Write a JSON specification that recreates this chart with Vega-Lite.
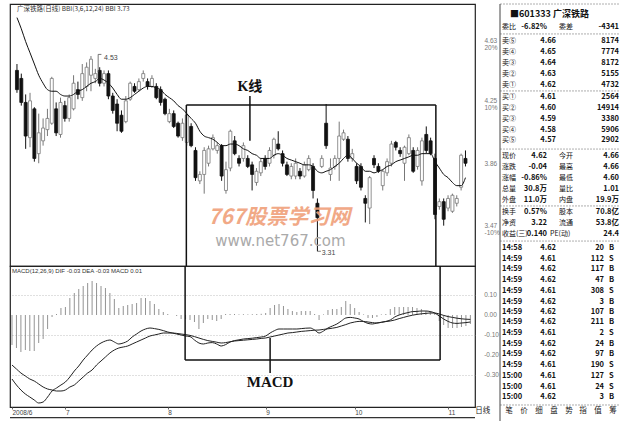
{
"$schema":"https://vega.github.io/schema/vega-lite/v6.json",
"padding":{"left":8,"top":3,"right":0,"bottom":0},
"background":"white",
"spacing":-5,
"config":{"view":{"stroke":"#222","strokeWidth":1.2},"font":"Noto Sans CJK SC","axis":{"labelOverlap":false}},
"datasets":{
"k":[
{"i":0,"o":4.44,"h":4.48,"l":4.30,"c":4.32,"b":4.77,"dif":-0.32,"dea":-0.25,"m":-0.15},
{"i":1,"o":4.39,"h":4.42,"l":4.22,"c":4.24,"b":4.70,"dif":-0.35,"dea":-0.27,"m":-0.165},
{"i":2,"o":4.24,"h":4.29,"l":3.95,"c":4.03,"b":4.62,"dif":-0.375,"dea":-0.29,"m":-0.185},
{"i":3,"o":4.02,"h":4.30,"l":3.96,"c":4.25,"b":4.55,"dif":-0.395,"dea":-0.305,"m":-0.175},
{"i":4,"o":4.20,"h":4.21,"l":3.87,"c":3.89,"b":4.48,"dif":-0.41,"dea":-0.32,"m":-0.18},
{"i":5,"o":3.92,"h":4.17,"l":3.86,"c":4.05,"b":4.41,"dif":-0.425,"dea":-0.33,"m":-0.18},
{"i":6,"o":4.00,"h":4.14,"l":3.97,"c":4.08,"b":4.36,"dif":-0.44,"dea":-0.345,"m":-0.14},
{"i":7,"o":4.07,"h":4.20,"l":4.03,"c":4.14,"b":4.32,"dif":-0.435,"dea":-0.36,"m":-0.12},
{"i":8,"o":4.11,"h":4.40,"l":4.10,"c":4.39,"b":4.31,"dif":-0.41,"dea":-0.37,"m":-0.07},
{"i":9,"o":4.20,"h":4.24,"l":4.03,"c":4.05,"b":4.31,"dif":-0.38,"dea":-0.375,"m":-0.01},
{"i":10,"o":4.04,"h":4.27,"l":4.02,"c":4.24,"b":4.29,"dif":-0.365,"dea":-0.38,"m":0.005},
{"i":11,"o":4.22,"h":4.25,"l":4.12,"c":4.14,"b":4.28,"dif":-0.35,"dea":-0.38,"m":0.035},
{"i":12,"o":4.14,"h":4.29,"l":4.12,"c":4.27,"b":4.28,"dif":-0.335,"dea":-0.375,"m":0.04},
{"i":13,"o":4.20,"h":4.41,"l":4.19,"c":4.36,"b":4.29,"dif":-0.31,"dea":-0.36,"m":0.085},
{"i":14,"o":4.32,"h":4.37,"l":4.26,"c":4.29,"b":4.31,"dif":-0.28,"dea":-0.35,"m":0.11},
{"i":15,"o":4.27,"h":4.48,"l":4.25,"c":4.42,"b":4.32,"dif":-0.255,"dea":-0.33,"m":0.13},
{"i":16,"o":4.34,"h":4.49,"l":4.31,"c":4.46,"b":4.34,"dif":-0.225,"dea":-0.31,"m":0.145},
{"i":17,"o":4.41,"h":4.53,"l":4.31,"c":4.51,"b":4.36,"dif":-0.2,"dea":-0.29,"m":0.16},
{"i":18,"o":4.39,"h":4.45,"l":4.36,"c":4.42,"b":4.37,"dif":-0.175,"dea":-0.275,"m":0.17},
{"i":19,"o":4.44,"h":4.46,"l":4.34,"c":4.36,"b":4.39,"dif":-0.155,"dea":-0.25,"m":0.16},
{"i":20,"o":4.36,"h":4.44,"l":4.34,"c":4.42,"b":4.38,"dif":-0.14,"dea":-0.23,"m":0.145},
{"i":21,"o":4.42,"h":4.44,"l":4.26,"c":4.28,"b":4.36,"dif":-0.13,"dea":-0.21,"m":0.135},
{"i":22,"o":4.28,"h":4.30,"l":4.17,"c":4.19,"b":4.33,"dif":-0.125,"dea":-0.19,"m":0.11},
{"i":23,"o":4.23,"h":4.26,"l":4.06,"c":4.11,"b":4.29,"dif":-0.135,"dea":-0.175,"m":0.08},
{"i":24,"o":4.16,"h":4.19,"l":4.05,"c":4.06,"b":4.26,"dif":-0.145,"dea":-0.165,"m":0.035},
{"i":25,"o":4.12,"h":4.28,"l":4.11,"c":4.25,"b":4.26,"dif":-0.14,"dea":-0.16,"m":0.045},
{"i":26,"o":4.26,"h":4.37,"l":4.25,"c":4.36,"b":4.27,"dif":-0.13,"dea":-0.155,"m":0.05},
{"i":27,"o":4.34,"h":4.36,"l":4.30,"c":4.31,"b":4.29,"dif":-0.11,"dea":-0.145,"m":0.055},
{"i":28,"o":4.32,"h":4.39,"l":4.31,"c":4.37,"b":4.31,"dif":-0.095,"dea":-0.135,"m":0.06},
{"i":29,"o":4.39,"h":4.44,"l":4.37,"c":4.42,"b":4.33,"dif":-0.08,"dea":-0.125,"m":0.085},
{"i":30,"o":4.37,"h":4.39,"l":4.32,"c":4.34,"b":4.34,"dif":-0.07,"dea":-0.115,"m":0.085},
{"i":31,"o":4.34,"h":4.41,"l":4.33,"c":4.39,"b":4.34,"dif":-0.065,"dea":-0.105,"m":0.07},
{"i":32,"o":4.34,"h":4.36,"l":4.26,"c":4.27,"b":4.33,"dif":-0.068,"dea":-0.1,"m":0.055},
{"i":33,"o":4.32,"h":4.34,"l":4.22,"c":4.24,"b":4.32,"dif":-0.072,"dea":-0.095,"m":0.03},
{"i":34,"o":4.26,"h":4.27,"l":4.16,"c":4.17,"b":4.29,"dif":-0.078,"dea":-0.09,"m":0.015},
{"i":35,"o":4.12,"h":4.20,"l":4.11,"c":4.17,"b":4.27,"dif":-0.085,"dea":-0.09,"m":0.005},
{"i":36,"o":4.17,"h":4.19,"l":4.08,"c":4.09,"b":4.25,"dif":-0.09,"dea":-0.09,"m":0.0},
{"i":37,"o":4.11,"h":4.12,"l":4.02,"c":4.03,"b":4.22,"dif":-0.095,"dea":-0.092,"m":-0.005},
{"i":38,"o":4.02,"h":4.14,"l":4.00,"c":4.11,"b":4.20,"dif":-0.1,"dea":-0.095,"m":-0.02},
{"i":39,"o":3.99,"h":4.17,"l":3.97,"c":4.16,"b":4.17,"dif":-0.105,"dea":-0.098,"m":-0.02},
{"i":40,"o":4.09,"h":4.11,"l":3.96,"c":3.97,"b":4.14,"dif":-0.108,"dea":-0.102,"m":-0.025},
{"i":41,"o":3.94,"h":3.96,"l":3.75,"c":3.77,"b":4.11,"dif":-0.125,"dea":-0.108,"m":-0.035},
{"i":42,"o":3.75,"h":3.81,"l":3.73,"c":3.79,"b":4.06,"dif":-0.14,"dea":-0.115,"m":-0.07},
{"i":43,"o":3.79,"h":3.96,"l":3.67,"c":3.94,"b":4.03,"dif":-0.145,"dea":-0.122,"m":-0.04},
{"i":44,"o":3.86,"h":3.97,"l":3.84,"c":3.95,"b":4.02,"dif":-0.14,"dea":-0.128,"m":-0.02},
{"i":45,"o":3.95,"h":4.04,"l":3.94,"c":4.02,"b":4.01,"dif":-0.138,"dea":-0.132,"m":-0.025},
{"i":46,"o":3.94,"h":3.99,"l":3.92,"c":3.97,"b":3.99,"dif":-0.145,"dea":-0.136,"m":-0.03},
{"i":47,"o":3.97,"h":3.98,"l":3.75,"c":3.78,"b":3.97,"dif":-0.155,"dea":-0.14,"m":-0.02},
{"i":48,"o":3.69,"h":3.87,"l":3.67,"c":3.82,"b":3.97,"dif":-0.148,"dea":-0.138,"m":0.005},
{"i":49,"o":3.83,"h":4.07,"l":3.81,"c":4.06,"b":3.98,"dif":-0.135,"dea":-0.134,"m":0.005},
{"i":50,"o":4.00,"h":4.03,"l":3.91,"c":3.92,"b":3.98,"dif":-0.128,"dea":-0.13,"m":0.005},
{"i":51,"o":3.89,"h":3.91,"l":3.84,"c":3.86,"b":3.97,"dif":-0.124,"dea":-0.128,"m":0.003},
{"i":52,"o":3.89,"h":3.99,"l":3.87,"c":3.97,"b":3.95,"dif":-0.12,"dea":-0.126,"m":0.004},
{"i":53,"o":3.89,"h":3.91,"l":3.83,"c":3.84,"b":3.94,"dif":-0.118,"dea":-0.124,"m":0.003},
{"i":54,"o":3.85,"h":3.87,"l":3.69,"c":3.79,"b":3.92,"dif":-0.116,"dea":-0.122,"m":0.004},
{"i":55,"o":3.74,"h":3.83,"l":3.72,"c":3.81,"b":3.91,"dif":-0.113,"dea":-0.12,"m":0.005},
{"i":56,"o":3.80,"h":3.89,"l":3.78,"c":3.87,"b":3.89,"dif":-0.11,"dea":-0.117,"m":0.006},
{"i":57,"o":3.89,"h":3.91,"l":3.82,"c":3.84,"b":3.89,"dif":-0.105,"dea":-0.115,"m":0.01},
{"i":58,"o":3.86,"h":3.96,"l":3.84,"c":3.94,"b":3.89,"dif":-0.09,"dea":-0.11,"m":0.035},
{"i":59,"o":3.91,"h":4.02,"l":3.89,"c":4.01,"b":3.91,"dif":-0.078,"dea":-0.105,"m":0.05},
{"i":60,"o":3.98,"h":4.06,"l":3.94,"c":3.95,"b":3.92,"dif":-0.07,"dea":-0.1,"m":0.055},
{"i":61,"o":3.92,"h":3.94,"l":3.84,"c":3.86,"b":3.91,"dif":-0.07,"dea":-0.095,"m":0.045},
{"i":62,"o":3.85,"h":3.87,"l":3.78,"c":3.79,"b":3.89,"dif":-0.07,"dea":-0.09,"m":0.03},
{"i":63,"o":3.78,"h":3.86,"l":3.76,"c":3.84,"b":3.88,"dif":-0.07,"dea":-0.088,"m":0.02},
{"i":64,"o":3.78,"h":3.89,"l":3.76,"c":3.86,"b":3.87,"dif":-0.07,"dea":-0.085,"m":0.015},
{"i":65,"o":3.81,"h":3.83,"l":3.76,"c":3.78,"b":3.86,"dif":-0.068,"dea":-0.082,"m":0.02},
{"i":66,"o":3.78,"h":3.87,"l":3.77,"c":3.85,"b":3.85,"dif":-0.066,"dea":-0.08,"m":0.02},
{"i":67,"o":3.82,"h":3.91,"l":3.81,"c":3.89,"b":3.85,"dif":-0.065,"dea":-0.078,"m":0.02},
{"i":68,"o":3.84,"h":3.86,"l":3.64,"c":3.69,"b":3.84,"dif":-0.075,"dea":-0.076,"m":0.005},
{"i":69,"o":3.61,"h":3.64,"l":3.31,"c":3.52,"b":3.81,"dif":-0.09,"dea":-0.075,"m":-0.025},
{"i":70,"o":3.84,"h":3.91,"l":3.83,"c":3.89,"b":3.80,"dif":-0.08,"dea":-0.072,"m":0.003},
{"i":71,"o":4.11,"h":4.23,"l":3.95,"c":3.97,"b":3.81,"dif":-0.065,"dea":-0.069,"m":0.025},
{"i":72,"o":3.79,"h":3.89,"l":3.75,"c":3.83,"b":3.82,"dif":-0.055,"dea":-0.066,"m":0.03},
{"i":73,"o":3.84,"h":3.91,"l":3.82,"c":3.89,"b":3.84,"dif":-0.045,"dea":-0.062,"m":0.03},
{"i":74,"o":3.89,"h":4.12,"l":3.75,"c":4.03,"b":3.86,"dif":-0.03,"dea":-0.055,"m":0.04},
{"i":75,"o":4.01,"h":4.07,"l":4.00,"c":4.05,"b":3.89,"dif":-0.015,"dea":-0.048,"m":0.07},
{"i":76,"o":4.01,"h":4.03,"l":3.87,"c":3.89,"b":3.91,"dif":-0.012,"dea":-0.04,"m":0.055},
{"i":77,"o":3.89,"h":3.95,"l":3.87,"c":3.92,"b":3.89,"dif":-0.015,"dea":-0.035,"m":0.035},
{"i":78,"o":3.84,"h":3.86,"l":3.73,"c":3.75,"b":3.86,"dif":-0.02,"dea":-0.032,"m":0.015},
{"i":79,"o":3.84,"h":3.86,"l":3.69,"c":3.71,"b":3.84,"dif":-0.033,"dea":-0.032,"m":0.003},
{"i":80,"o":3.64,"h":3.66,"l":3.49,"c":3.61,"b":3.81,"dif":-0.042,"dea":-0.035,"m":-0.015},
{"i":81,"o":3.58,"h":3.78,"l":3.48,"c":3.77,"b":3.81,"dif":-0.045,"dea":-0.038,"m":-0.015},
{"i":82,"o":3.89,"h":3.91,"l":3.83,"c":3.85,"b":3.80,"dif":-0.04,"dea":-0.04,"m":-0.01},
{"i":83,"o":3.84,"h":3.86,"l":3.80,"c":3.81,"b":3.81,"dif":-0.037,"dea":-0.036,"m":0.003},
{"i":84,"o":3.72,"h":3.82,"l":3.69,"c":3.81,"b":3.82,"dif":-0.032,"dea":-0.033,"m":0.005},
{"i":85,"o":3.80,"h":3.89,"l":3.78,"c":3.87,"b":3.84,"dif":-0.025,"dea":-0.03,"m":0.03},
{"i":86,"o":3.86,"h":4.00,"l":3.84,"c":3.98,"b":3.85,"dif":-0.01,"dea":-0.025,"m":0.04},
{"i":87,"o":3.99,"h":4.00,"l":3.94,"c":3.96,"b":3.87,"dif":0.0,"dea":-0.018,"m":0.04},
{"i":88,"o":3.94,"h":3.96,"l":3.90,"c":3.92,"b":3.88,"dif":0.007,"dea":-0.012,"m":0.04},
{"i":89,"o":3.86,"h":3.97,"l":3.75,"c":3.96,"b":3.89,"dif":0.012,"dea":-0.006,"m":0.04},
{"i":90,"o":3.92,"h":4.04,"l":3.91,"c":4.02,"b":3.90,"dif":0.017,"dea":-0.001,"m":0.04},
{"i":91,"o":3.94,"h":3.96,"l":3.80,"c":3.81,"b":3.91,"dif":0.018,"dea":0.003,"m":0.035},
{"i":92,"o":3.84,"h":3.96,"l":3.82,"c":3.94,"b":3.91,"dif":0.02,"dea":0.006,"m":0.03},
{"i":93,"o":3.75,"h":4.02,"l":3.72,"c":4.00,"b":3.92,"dif":0.02,"dea":0.008,"m":0.02},
{"i":94,"o":4.04,"h":4.09,"l":3.92,"c":3.94,"b":3.92,"dif":0.017,"dea":0.01,"m":0.02},
{"i":95,"o":4.00,"h":4.02,"l":3.91,"c":3.92,"b":3.92,"dif":0.01,"dea":0.01,"m":0.01},
{"i":96,"o":3.89,"h":3.92,"l":3.51,"c":3.54,"b":3.87,"dif":-0.005,"dea":0.005,"m":-0.03},
{"i":97,"o":3.59,"h":3.64,"l":3.57,"c":3.62,"b":3.83,"dif":-0.02,"dea":-0.002,"m":-0.05},
{"i":98,"o":3.62,"h":3.64,"l":3.47,"c":3.51,"b":3.79,"dif":-0.032,"dea":-0.008,"m":-0.065},
{"i":99,"o":3.58,"h":3.66,"l":3.56,"c":3.64,"b":3.77,"dif":-0.04,"dea":-0.012,"m":-0.065},
{"i":100,"o":3.56,"h":3.67,"l":3.55,"c":3.66,"b":3.74,"dif":-0.042,"dea":-0.016,"m":-0.065},
{"i":101,"o":3.61,"h":3.66,"l":3.59,"c":3.64,"b":3.72,"dif":-0.04,"dea":-0.019,"m":-0.06},
{"i":102,"o":3.71,"h":3.92,"l":3.69,"c":3.91,"b":3.72,"dif":-0.038,"dea":-0.021,"m":-0.055},
{"i":103,"o":3.89,"h":3.94,"l":3.84,"c":3.86,"b":3.77,"dif":-0.035,"dea":-0.022,"m":-0.045}
],
"t":[
{"ln":0,"c":4,"t":"■601333 广深铁路"},
{"ln":1.2,"c":2,"t":"委比"},{"ln":1.2,"c":7,"t":"-6.82%"},{"ln":1.2,"c":11,"t":"委差"},{"ln":1.2,"c":18,"t":"-4341"},
{"ln":2.5,"c":2,"t":"卖⑤"},{"ln":2.5,"c":10,"t":"4.66"},{"ln":2.5,"c":18,"t":"8174"},
{"ln":3.5,"c":2,"t":"卖④"},{"ln":3.5,"c":10,"t":"4.65"},{"ln":3.5,"c":18,"t":"7774"},
{"ln":4.5,"c":2,"t":"卖③"},{"ln":4.5,"c":10,"t":"4.64"},{"ln":4.5,"c":18,"t":"8172"},
{"ln":5.5,"c":2,"t":"卖②"},{"ln":5.5,"c":10,"t":"4.63"},{"ln":5.5,"c":18,"t":"5155"},
{"ln":6.5,"c":2,"t":"卖①"},{"ln":6.5,"c":10,"t":"4.62"},{"ln":6.5,"c":18,"t":"4732"},
{"ln":7.6,"c":2,"t":"买①"},{"ln":7.6,"c":10,"t":"4.61"},{"ln":7.6,"c":18,"t":"2564"},
{"ln":8.6,"c":2,"t":"买②"},{"ln":8.6,"c":10,"t":"4.60"},{"ln":8.6,"c":18,"t":"14914"},
{"ln":9.6,"c":2,"t":"买③"},{"ln":9.6,"c":10,"t":"4.59"},{"ln":9.6,"c":18,"t":"3380"},
{"ln":10.6,"c":2,"t":"买④"},{"ln":10.6,"c":10,"t":"4.58"},{"ln":10.6,"c":18,"t":"5906"},
{"ln":11.6,"c":2,"t":"买⑤"},{"ln":11.6,"c":10,"t":"4.57"},{"ln":11.6,"c":18,"t":"2902"},
{"ln":13,"c":2,"t":"现价"},{"ln":13,"c":7,"t":"4.62"},{"ln":13,"c":11,"t":"今开"},{"ln":13,"c":18,"t":"4.66"},
{"ln":14,"c":2,"t":"涨跌"},{"ln":14,"c":7,"t":"-0.04"},{"ln":14,"c":11,"t":"最高"},{"ln":14,"c":18,"t":"4.66"},
{"ln":15,"c":2,"t":"涨幅"},{"ln":15,"c":7,"t":"-0.86%"},{"ln":15,"c":11,"t":"最低"},{"ln":15,"c":18,"t":"4.60"},
{"ln":16.1,"c":2,"t":"总量"},{"ln":16.1,"c":7,"t":"30.8万"},{"ln":16.1,"c":11,"t":"量比"},{"ln":16.1,"c":18,"t":"1.01"},
{"ln":17.1,"c":2,"t":"外盘"},{"ln":17.1,"c":7,"t":"11.0万"},{"ln":17.1,"c":11,"t":"内盘"},{"ln":17.1,"c":18,"t":"19.9万"},
{"ln":18.2,"c":2,"t":"换手"},{"ln":18.2,"c":7,"t":"0.57%"},{"ln":18.2,"c":11,"t":"股本"},{"ln":18.2,"c":18,"t":"70.8亿"},
{"ln":19.2,"c":2,"t":"净资"},{"ln":19.2,"c":7,"t":"3.22"},{"ln":19.2,"c":11,"t":"流通"},{"ln":19.2,"c":18,"t":"53.8亿"},
{"ln":20.2,"c":2,"t":"收益(三)"},{"ln":20.2,"c":7,"t":"0.140"},{"ln":20.2,"c":8,"t":"PE(动)"},{"ln":20.2,"c":18,"t":"24.4"},
{"ln":21.5,"c":2,"t":"14:58"},{"ln":21.5,"c":10,"t":"4.62"},{"ln":21.5,"c":15,"t":"20"},{"ln":21.5,"c":16,"t":"B"},
{"ln":22.5,"c":2,"t":"14:59"},{"ln":22.5,"c":10,"t":"4.61"},{"ln":22.5,"c":15,"t":"112"},{"ln":22.5,"c":16,"t":"S"},
{"ln":23.4,"c":2,"t":"14:59"},{"ln":23.4,"c":10,"t":"4.62"},{"ln":23.4,"c":15,"t":"117"},{"ln":23.4,"c":16,"t":"B"},
{"ln":24.4,"c":2,"t":"14:59"},{"ln":24.4,"c":10,"t":"4.62"},{"ln":24.4,"c":15,"t":"47"},{"ln":24.4,"c":16,"t":"B"},
{"ln":25.4,"c":2,"t":"14:59"},{"ln":25.4,"c":10,"t":"4.61"},{"ln":25.4,"c":15,"t":"308"},{"ln":25.4,"c":16,"t":"S"},
{"ln":26.4,"c":2,"t":"14:59"},{"ln":26.4,"c":10,"t":"4.62"},{"ln":26.4,"c":15,"t":"3"},{"ln":26.4,"c":16,"t":"B"},
{"ln":27.3,"c":2,"t":"14:59"},{"ln":27.3,"c":10,"t":"4.62"},{"ln":27.3,"c":15,"t":"107"},{"ln":27.3,"c":16,"t":"B"},
{"ln":28.3,"c":2,"t":"14:59"},{"ln":28.3,"c":10,"t":"4.62"},{"ln":28.3,"c":15,"t":"211"},{"ln":28.3,"c":16,"t":"B"},
{"ln":29.3,"c":2,"t":"14:59"},{"ln":29.3,"c":10,"t":"4.61"},{"ln":29.3,"c":15,"t":"2"},{"ln":29.3,"c":16,"t":"S"},
{"ln":30.3,"c":2,"t":"14:59"},{"ln":30.3,"c":10,"t":"4.62"},{"ln":30.3,"c":15,"t":"24"},{"ln":30.3,"c":16,"t":"B"},
{"ln":31.2,"c":2,"t":"14:59"},{"ln":31.2,"c":10,"t":"4.62"},{"ln":31.2,"c":15,"t":"97"},{"ln":31.2,"c":16,"t":"B"},
{"ln":32.2,"c":2,"t":"14:59"},{"ln":32.2,"c":10,"t":"4.61"},{"ln":32.2,"c":15,"t":"190"},{"ln":32.2,"c":16,"t":"S"},
{"ln":33.2,"c":2,"t":"15:00"},{"ln":33.2,"c":10,"t":"4.61"},{"ln":33.2,"c":15,"t":"127"},{"ln":33.2,"c":16,"t":"S"},
{"ln":34.2,"c":2,"t":"15:00"},{"ln":34.2,"c":10,"t":"4.61"},{"ln":34.2,"c":15,"t":"24"},{"ln":34.2,"c":16,"t":"S"},
{"ln":35.1,"c":2,"t":"15:00"},{"ln":35.1,"c":10,"t":"4.62"},{"ln":35.1,"c":15,"t":"3"},{"ln":35.1,"c":16,"t":"B"},
{"ln":36.4,"c":3,"t":"笔"},{"ln":36.4,"c":5,"t":"价"},{"ln":36.4,"c":6,"t":"细"},{"ln":36.4,"c":9,"t":"盘"},{"ln":36.4,"c":12,"t":"势"},{"ln":36.4,"c":13,"t":"指"},{"ln":36.4,"c":14,"t":"值"},{"ln":36.4,"c":17,"t":"筹"}
]
},
"hconcat":[
{"vconcat":[
{"width":465,"height":262,
"layer":[
{"data":{"name":"k"},"mark":{"type":"rule","strokeWidth":1},
"encoding":{
"x":{"field":"i","type":"quantitative","scale":{"domain":[-0.449,104.04],"nice":false,"zero":false},"axis":null},
"y":{"field":"l","type":"quantitative","scale":{"domain":[3.218,4.855],"nice":false,"zero":false},
"axis":{"orient":"right","values":[3.47,3.86,4.25,4.63],"labelExpr":"datum.value > 4.6 ? ['4.63','20%'] : datum.value > 4.2 ? ['4.25','10%'] : datum.value > 3.8 ? '3.86' : ['3.47','-10%']","ticks":false,"domain":false,"grid":false,"labelPadding":9,"labelAlign":"left","labelFontSize":6.5,"labelLineHeight":7,"labelColor":"#777","labelFont":"Liberation Sans","labelOverlap":false,"title":null}},
"y2":{"field":"h"},
"color":{"condition":{"test":"datum.c >= datum.o","value":"#777"},"value":"#111"}}},
{"data":{"name":"k"},"mark":{"type":"bar","size":3,"strokeWidth":0.8},
"encoding":{
"x":{"field":"i","type":"quantitative","axis":null},
"y":{"field":"o","type":"quantitative","title":null},
"y2":{"field":"c"},
"fill":{"condition":{"test":"datum.c >= datum.o","value":"#ffffff"},"value":"#111"},
"stroke":{"condition":{"test":"datum.c >= datum.o","value":"#777"},"value":"#111"}}},
{"data":{"name":"k"},"mark":{"type":"line","color":"#111","strokeWidth":1,"interpolate":"monotone"},
"encoding":{"x":{"field":"i","type":"quantitative","axis":null},"y":{"field":"b","type":"quantitative","title":null}}},
{"data":{"values":[{"i":38.9,"i2":96.2,"p":4.224,"p2":4.224},{"i":38.9,"i2":38.9,"p":4.224,"p2":3.218},{"i":96.2,"i2":96.2,"p":4.224,"p2":3.218},{"i":53.5,"i2":53.5,"p":4.28,"p2":4.0}]},
"mark":{"type":"rule","color":"#111","strokeWidth":1.5},
"encoding":{"x":{"field":"i","type":"quantitative","axis":null},"x2":{"field":"i2"},"y":{"field":"p","type":"quantitative","title":null},"y2":{"field":"p2"}}},
{"data":{"values":[{"i":18.65,"i2":18.65,"p":4.54,"p2":4.43},{"i":18.65,"i2":19.4,"p":4.54,"p2":4.54},{"i":69,"i2":69.8,"p":3.31,"p2":3.31}]},
"mark":{"type":"rule","color":"#555","strokeWidth":0.8},
"encoding":{"x":{"field":"i","type":"quantitative","axis":null},"x2":{"field":"i2"},"y":{"field":"p","type":"quantitative","title":null},"y2":{"field":"p2"}}},
{"data":{"values":[{"i":20.0,"p":4.52,"t":"4.53"},{"i":70.0,"p":3.30,"t":"3.31"}]},
"mark":{"type":"text","align":"left","baseline":"middle","fontSize":7,"color":"#444","font":"Liberation Sans"},
"encoding":{"x":{"field":"i","type":"quantitative","axis":null},"y":{"field":"p","type":"quantitative","title":null},"text":{"field":"t"}}},
{"data":{"values":[{"i":0,"p":4.822,"t":"广深铁路(日线) BBI(3,6,12,24) BBI 3.73"}]},
"mark":{"type":"text","align":"left","baseline":"middle","fontSize":6.5,"color":"#333"},
"encoding":{"x":{"field":"i","type":"quantitative","axis":null},"y":{"field":"p","type":"quantitative","title":null},"text":{"field":"t"}}},
{"data":{"values":[{"i":53.5,"p":4.335,"t":"K线"}]},
"mark":{"type":"text","align":"center","baseline":"middle","fontSize":14,"fontWeight":"bold","color":"#111","font":"Liberation Serif, Noto Sans CJK SC"},
"encoding":{"x":{"field":"i","type":"quantitative","axis":null},"y":{"field":"p","type":"quantitative","title":null},"text":{"field":"t"}}},
{"data":{"values":[{"i":60.2,"p":3.518,"t":"767股票学习网"}]},
"mark":{"type":"text","align":"center","baseline":"middle","fontSize":21,"fontWeight":"bold","fontStyle":"italic","color":"#f0a07a","opacity":0.9},
"encoding":{"x":{"field":"i","type":"quantitative","axis":null},"y":{"field":"p","type":"quantitative","title":null},"text":{"field":"t"}}},
{"data":{"values":[{"i":60.5,"p":3.375,"t":"www.net767.com"}]},
"mark":{"type":"text","align":"center","baseline":"middle","fontSize":15,"color":"#aaaaaa","font":"DejaVu Sans"},
"encoding":{"x":{"field":"i","type":"quantitative","axis":null},"y":{"field":"p","type":"quantitative","title":null},"text":{"field":"t"}}}
]},
{"width":465,"height":141,
"layer":[
{"data":{"name":"k"},"mark":{"type":"rule","color":"#777","strokeWidth":0.8},
"encoding":{
"x":{"field":"i","type":"quantitative","scale":{"domain":[-0.449,104.04],"nice":false,"zero":false},
"axis":{"orient":"bottom","values":[0,12,35,57,77,98],"labelExpr":"datum.value < 1 ? '2008/6' : datum.value < 20 ? '7' : datum.value < 40 ? '8' : datum.value < 60 ? '9' : datum.value < 80 ? '10' : '11'","labelAlign":"left","labelPadding":0,"labelFontSize":6.5,"labelColor":"#444","labelFont":"Liberation Sans","tickSize":2,"tickColor":"#666","domain":false,"grid":false,"title":null,"labelFlush":false,"labelOverlap":false}},
"y":{"field":"m","type":"quantitative","scale":{"domain":[-0.46,0.245],"nice":false,"zero":false},
"axis":{"orient":"right","values":[0.1,0,-0.1,-0.2,-0.3],"labels":false,"ticks":false,"domain":false,"grid":true,"gridDash":[1,2],"gridColor":"#999","gridWidth":0.6,"title":null}},
"y2":{"datum":0}}},
{"data":{"name":"k"},"mark":{"type":"line","color":"#222","strokeWidth":1,"interpolate":"monotone"},
"encoding":{"x":{"field":"i","type":"quantitative","title":null},"y":{"field":"dif","type":"quantitative","title":null}}},
{"data":{"name":"k"},"mark":{"type":"line","color":"#222","strokeWidth":1,"interpolate":"monotone"},
"encoding":{"x":{"field":"i","type":"quantitative","title":null},"y":{"field":"dea","type":"quantitative","title":null}}},
{"data":{"values":[{"i":38.9,"i2":38.9,"v":0.245,"v2":-0.225},{"i":96.2,"i2":96.2,"v":0.245,"v2":-0.225},{"i":38.9,"i2":96.2,"v":-0.225,"v2":-0.225},{"i":58,"i2":58,"v":-0.115,"v2":-0.29}]},
"mark":{"type":"rule","color":"#111","strokeWidth":1.5},
"encoding":{"x":{"field":"i","type":"quantitative","title":null},"x2":{"field":"i2"},"y":{"field":"v","type":"quantitative","title":null},"y2":{"field":"v2"}}},
{"data":{"values":[{"i":-0.449,"i2":104.04,"v":-0.513,"v2":-0.513}]},
"mark":{"type":"rule","color":"#333","strokeWidth":1.2},
"encoding":{"x":{"field":"i","type":"quantitative","title":null},"x2":{"field":"i2"},"y":{"field":"v","type":"quantitative","title":null},"y2":{"field":"v2"}}},
{"data":{"values":[{"i":106.1,"v":0.1,"t":"0.10"},{"i":106.1,"v":0,"t":"0.00"},{"i":106.1,"v":-0.1,"t":"-0.10"},{"i":106.1,"v":-0.2,"t":"-0.20"},{"i":106.1,"v":-0.3,"t":"-0.30"}]},
"mark":{"type":"text","align":"left","baseline":"middle","fontSize":6.5,"color":"#777","font":"Liberation Sans"},
"encoding":{"x":{"field":"i","type":"quantitative","title":null},"y":{"field":"v","type":"quantitative","title":null},"text":{"field":"t"}}},
{"data":{"values":[{"i":58,"v":-0.335,"t":"MACD"}]},
"mark":{"type":"text","align":"center","baseline":"middle","fontSize":15,"fontWeight":"bold","color":"#111","font":"Liberation Serif"},
"encoding":{"x":{"field":"i","type":"quantitative","title":null},"y":{"field":"v","type":"quantitative","title":null},"text":{"field":"t"}}},
{"data":{"values":[{"i":0,"v":0.222,"t":"MACD(12,26,9) DIF -0.03 DEA -0.03 MACD 0.01"}]},
"mark":{"type":"text","align":"left","baseline":"middle","fontSize":6,"color":"#333","font":"Liberation Sans"},
"encoding":{"x":{"field":"i","type":"quantitative","title":null},"y":{"field":"v","type":"quantitative","title":null},"text":{"field":"t"}}},
{"data":{"values":[{"i":105.8,"v":-0.48,"t":"日线"}]},
"mark":{"type":"text","align":"center","baseline":"middle","fontSize":7.5,"color":"#222"},
"encoding":{"x":{"field":"i","type":"quantitative","title":null},"y":{"field":"v","type":"quantitative","title":null},"text":{"field":"t"}}}
]}
],"spacing":0,"bounds":"flush"},
{"width":121,"height":418,"view":{"stroke":null},
"layer":[
{"data":{"values":[{"c":1,"c2":19,"ln":-0.917,"ln2":-0.917},{"c":1,"c2":19,"ln":1.83,"ln2":1.83},{"c":1,"c2":19,"ln":7.06,"ln2":7.06},{"c":1,"c2":19,"ln":12.39,"ln2":12.39},{"c":1,"c2":19,"ln":17.61,"ln2":17.61},{"c":1,"c2":19,"ln":20.83,"ln2":20.83},{"c":1,"c2":19,"ln":35.87,"ln2":35.87}]},
"mark":{"type":"rule","color":"#999","strokeWidth":0.8,"strokeDash":[2,1]},
"encoding":{
"x":{"field":"c","type":"quantitative","scale":{"domain":[1,2,3,4,5,6,7,8,9,10,11,12,13,14,15,16,17,18,19],"range":[0,2,9,10,24,39,47,50,54,56,59,69,83,98,104,109,113,119,120.5],"nice":false,"zero":false},"axis":null},
"x2":{"field":"c2"},
"y":{"field":"ln","type":"quantitative","scale":{"domain":[-0.917,37.43],"reverse":true,"nice":false,"zero":false},"axis":null},
"y2":{"field":"ln2"}}},
{"data":{"values":[{"c":1,"c2":1,"ln":-0.917,"ln2":37.43},{"c":19,"c2":19,"ln":-0.917,"ln2":37.43}]},
"mark":{"type":"rule","color":"#444","strokeWidth":1},
"encoding":{"x":{"field":"c","type":"quantitative","axis":null},"x2":{"field":"c2"},"y":{"field":"ln","type":"quantitative","axis":null},"y2":{"field":"ln2"}}},
{"data":{"name":"t"},"transform":[{"filter":"datum.c == 4"}],
"mark":{"type":"text","align":"left","baseline":"middle","fontSize":9,"fontWeight":"bold","color":"#111"},
"encoding":{"x":{"field":"c","type":"quantitative","axis":null},"y":{"field":"ln","type":"quantitative","axis":null},"text":{"field":"t"}}},
{"data":{"name":"t"},"transform":[{"filter":"(datum.c == 2 && datum.ln < 21) || datum.c == 8 || datum.c == 11"}],
"mark":{"type":"text","align":"left","baseline":"middle","fontSize":7,"color":"#111"},
"encoding":{"x":{"field":"c","type":"quantitative","axis":null},"y":{"field":"ln","type":"quantitative","axis":null},"text":{"field":"t"}}},
{"data":{"name":"t"},"transform":[{"filter":"(datum.c == 2 && datum.ln > 21) || datum.c == 16"}],
"mark":{"type":"text","align":"left","baseline":"middle","fontSize":7.5,"fontWeight":"bold","color":"#111"},
"encoding":{"x":{"field":"c","type":"quantitative","axis":null},"y":{"field":"ln","type":"quantitative","axis":null},"text":{"field":"t"}}},
{"data":{"name":"t"},"transform":[{"filter":"datum.c == 7 || datum.c == 10 || datum.c == 15 || datum.c == 18"}],
"mark":{"type":"text","align":"right","baseline":"middle","fontSize":7.5,"fontWeight":"bold","color":"#111"},
"encoding":{"x":{"field":"c","type":"quantitative","axis":null},"y":{"field":"ln","type":"quantitative","axis":null},"text":{"field":"t"}}},
{"data":{"name":"t"},"transform":[{"filter":"datum.ln > 36"}],
"mark":{"type":"text","align":"center","baseline":"middle","fontSize":7.5,"color":"#222"},
"encoding":{"x":{"field":"c","type":"quantitative","axis":null},"y":{"field":"ln","type":"quantitative","axis":null},"text":{"field":"t"}}}
]}
]
}
